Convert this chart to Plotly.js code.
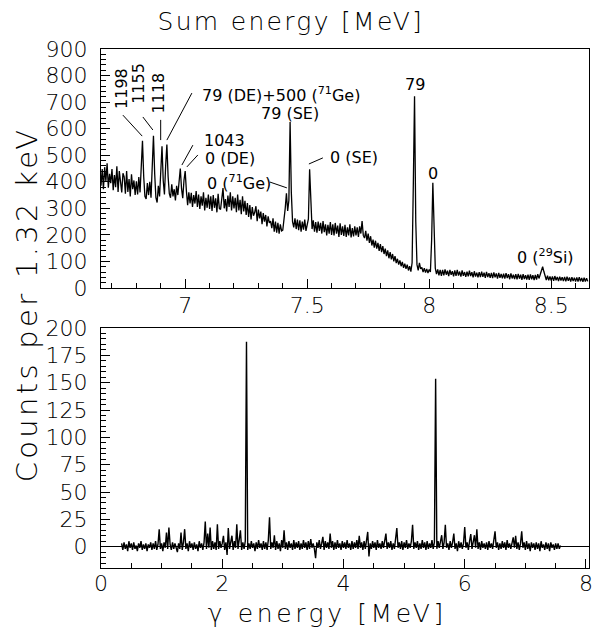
<!DOCTYPE html>
<html><head><meta charset="utf-8">
<script src="https://cdn.plot.ly/plotly-3.0.1.min.js"></script>
<style>html,body{margin:0;padding:0;background:#fff}</style>
</head><body><div id="chart" style="width:594px;height:629px"></div>
<script>
// Top panel: sum-energy spectrum, channels of 5 keV starting at 6.650 MeV
const sumStart = 6.65, sumStep = 0.005;
const sumCounts = [
462,385,448,372,455,402,470,378,430,395,
448,368,425,380,458,362,440,395,360,432,
418,355,440,362,410,345,428,372,405,350,
402,352,418,360,440,554,420,345,335,395,
350,400,340,455,573,430,340,322,385,345,
425,534,405,352,460,540,420,355,340,390,
345,372,330,385,350,400,450,375,338,405,
440,365,312,360,318,358,305,350,318,365,
305,352,298,345,310,360,292,340,302,352,
298,345,290,350,302,338,285,355,300,296,
338,376,300,335,288,348,305,360,292,345,
300,340,285,352,292,332,278,345,288,328,
275,320,268,312,258,305,272,285,308,252,
295,262,288,240,282,250,275,232,270,245,
252,225,262,212,250,208,245,205,240,215,
218,250,300,357,290,330,625,360,250,228,
262,222,258,218,255,212,250,220,258,215,
245,260,447,285,222,255,212,248,208,250,
215,245,205,252,210,240,198,238,205,248,
200,240,198,245,205,235,192,244,200,232,
196,238,192,228,198,240,190,226,194,232,
198,228,192,232,205,252,198,188,215,178,
205,170,195,160,182,152,178,148,170,140,
165,135,158,128,148,120,142,112,135,108,
128,100,120,94,110,88,104,82,98,76,
92,72,88,66,82,62,95,390,722,250,
88,66,95,72,78,60,75,58,72,56,
70,60,180,396,170,75,52,70,48,68,
46,68,48,70,50,65,45,68,50,63,
44,66,46,68,47,62,43,66,46,60,
42,62,44,65,45,60,40,63,43,58,
40,60,41,62,42,58,38,61,41,56,
38,57,37,59,40,55,35,57,38,53,
36,54,35,56,37,52,33,55,36,50,
34,52,33,53,35,50,31,52,34,48,
32,50,31,51,33,48,30,49,32,52,
36,50,58,80,62,42,30,46,29,44,
28,44,27,45,29,42,26,43,28,41,
26,42,25,43,27,40,24,41,26,39,
24,40,24,41,25,38,23,39,24,37,
25
];
// Bottom panel: gamma-energy spectrum, 20 keV steps starting at 0.34 MeV
const gammaStart = 0.34, gammaStep = 0.02;
const gammaCounts = [
3,-3,4,-2,2,-4,5,-1,3,-3,4,-2,1,-4,3,-1,5,-3,2,-2,
3,-4,2,-1,4,-3,3,-2,5,-3,2,16,-2,3,-4,4,-1,13,-2,17.5,
2,-3,4,-2,3,-1,-5,3,-2,13,-3,4,16,-2,3,-4,5,-1,3,-3,
4,-2,2,-4,5,-1,3,-3,4,23,-2,12,-1,17.5,-3,5,-2,4,-3,20.5,
-2,5,-1,3,10,-3,4,-7.5,17,-2,4,10,-3,5,-1,20.5,-2,6,15,-3,
4,-2,5,187.5,-3,3,-2,5,-1,3,-4,4,-2,6,-1,3,-3,5,-2,4,
-3,6,27,-2,4,-1,10.5,-3,5,-2,3,-4,6,-1,15,-2,4,-3,5,-1,
3,-3,6,-2,4,-1,5,-3,3,-2,6,-1,4,-3,5,-2,7,-1,3,-2,
-10.5,4,-1,6,-2,3,9,-3,5,-1,4,-2,12,-1,5,-3,4,-2,6,-1,
3,-3,5,-1,4,-2,6,-1,3,-3,5,-2,4,-1,6,-2,10,-1,4,-3,
5,-2,4,13.5,-9,3,-2,5,-1,4,-3,6,-1,3,-2,5,-1,7,12,-2,
4,-1,5,-3,3,-2,6,17,-1,4,-2,5,-3,4,-1,6,-2,3,-1,5,
20,-2,4,-1,5,-3,3,-2,6,-1,4,-3,5,-2,3,-1,6,-2,4,153.5,
-2,5,-1,7,10.5,-2,4,20,-1,3,-3,5,-1,4,12,-2,3,-4,5,-1,
4,-2,3,18,-1,4,-3,5,11.5,-2,6,10.5,-1,16,-2,4,-3,5,-1,3,
-2,4,-3,5,-1,3,-2,6,14,-1,4,-3,3,-2,5,-1,4,-3,6,-1,
3,-2,5,8.5,-1,10,-2,4,-3,3,14,-1,4,-3,5,-2,3,-4,4,-1,
3,-3,4,-2,3,-4,5,-1,2,-3,4,-2,3,-4,4,-1,2,-3,3,-2,
3,-2,1
];
const sumTicks = [7, 7.5, 8, 8.5];
const sumTickText = ['7', '7.5', '8', '8.5'];
const sumYTicks = [0,100,200,300,400,500,600,700,800,900];
const gammaTicks = [0, 2, 4, 6, 8];
const gammaYTicks = [0,25,50,75,100,125,150,175,200];

const FAM = 'DejaVu Sans';
const tf = {family: FAM, size: 22, color: '#000', weight: 200};
const af = {family: FAM, size: 16, color: '#000', weight: 400};

const base = {showline:true, linecolor:'#000', linewidth:1, mirror:true, showgrid:false,
  ticks:'inside', tickcolor:'#000', tickwidth:1, tickfont: tf};

const traces = [
  {type:'scatter', mode:'lines', x0:sumStart, dx:sumStep, y:sumCounts, xaxis:'x', yaxis:'y',
   line:{color:'#000', width:1.3}, hoverinfo:'skip'},
  {type:'scatter', mode:'lines', x0:gammaStart, dx:gammaStep, y:gammaCounts, xaxis:'x2', yaxis:'y2',
   line:{color:'#000', width:1.4}, hoverinfo:'skip'}
];

function lab(text, x, y, opt) {
  return Object.assign({text, x, y, xref:'x', yref:'y', showarrow:false, font: af,
    xanchor:'center', yanchor:'middle'}, opt || {});
}
function seg(x0, y0, x1, y1) {
  return {type:'line', xref:'x', yref:'y', x0, y0, x1, y1, line:{color:'#000', width:1}};
}

const layout = {
  width: 594, height: 629,
  margin: {l:101, r:5, t:49, b:61},
  showlegend: false,
  paper_bgcolor:'#fff', plot_bgcolor:'#fff',
  font: tf,
  title: {text:'Sum energy [MeV]', font:{family:FAM, size:25, color:'#000', weight:200},
    x:0.389, xref:'paper', xanchor:'center', y:1-21/629, yref:'container', yanchor:'middle'},
  xaxis: Object.assign({}, base, {domain:[0,1], anchor:'y', range:[6.655, 8.655],
    tickmode:'array', tickvals:sumTicks, ticktext:sumTickText, ticklen:9, zeroline:false,
    ticklabelstandoff:-2,
    minor:{tickmode:'linear', tick0:0, dtick:0.1, ticks:'inside', ticklen:5, tickcolor:'#000', showgrid:false}}),
  yaxis: Object.assign({}, base, {domain:[0.5395, 1], anchor:'x', range:[0, 900],
    tickmode:'array', tickvals:sumYTicks, ticklen:9, zeroline:false, ticklabelstandoff:8,
    minor:{tickmode:'linear', tick0:0, dtick:20, ticks:'inside', ticklen:5, tickcolor:'#000', showgrid:false}}),
  xaxis2: Object.assign({}, base, {domain:[0,1], anchor:'y2', range:[0, 8.05],
    tickmode:'array', tickvals:gammaTicks, ticklen:9, zeroline:false, ticklabelstandoff:-4,
    minor:{tickmode:'linear', tick0:0, dtick:0.5, ticks:'inside', ticklen:5, tickcolor:'#000', showgrid:false}}),
  yaxis2: Object.assign({}, base, {domain:[0, 0.4624], anchor:'x2', range:[-19.5, 200],
    tickmode:'array', tickvals:gammaYTicks, ticklen:9, ticklabelstandoff:8,
    zeroline:true, zerolinecolor:'#000', zerolinewidth:1,
    minor:{tickmode:'linear', tick0:0, dtick:5, ticks:'inside', ticklen:5, tickcolor:'#000', showgrid:false}}),
  annotations: [
    lab('1198', 6.7365, 753, {textangle:-90}),
    lab('1155', 6.8102, 772, {textangle:-90}),
    lab('1118', 6.8902, 734, {textangle:-90}),
    lab('79 (DE)+500 (<sup>71</sup>Ge)', 7.0602, 728, {xanchor:'left'}),
    lab('79 (SE)', 7.4291, 659),
    lab('1043', 7.0684, 554, {xanchor:'left'}),
    lab('0 (DE)', 7.0725, 486, {xanchor:'left'}),
    lab('0 (<sup>71</sup>Ge)', 7.0807, 397, {xanchor:'left'}),
    lab('0 (SE)', 7.5844, 493, {xanchor:'left'}),
    lab('79', 7.9414, 765),
    lab('0', 8.0172, 433),
    lab('0 (<sup>29</sup>Si)', 8.3512, 120, {xanchor:'left'}),
    {text:'γ energy [MeV]', xref:'paper', yref:'paper', x:0.465, y:-0.0886, showarrow:false,
      xanchor:'center', yanchor:'middle', font:{family:FAM, size:25, color:'#000', weight:200}},
    {text:'Counts per 1.32 keV', xref:'paper', yref:'paper', x:-0.1516, y:0.507, showarrow:false,
      textangle:-90, xanchor:'center', yanchor:'middle', font:{family:FAM, size:29, color:'#000', weight:200}}
  ],
  shapes: [
    seg(6.7447, 651, 6.8238, 572),
    seg(6.8266, 644, 6.8676, 595),
    seg(6.8996, 633, 6.8996, 557),
    seg(7.0275, 734, 6.9250, 557),
    seg(7.0316, 538, 6.9865, 463),
    seg(7.0520, 501, 7.0070, 456),
    seg(7.3471, 399, 7.4168, 377),
    seg(7.5643, 490, 7.5070, 467)
  ]
};

const spacing = {'Sum energy [MeV]': '2.3px', 'γ energy [MeV]': '3.6px', 'Counts per 1.32 keV': '3.3px'};
Plotly.newPlot('chart', traces, layout, {displayModeBar:false, staticPlot:true}).then(function () {
  document.querySelectorAll('#chart text').forEach(function (t) {
    const s = spacing[t.textContent];
    if (s) t.style.letterSpacing = s;
  });
});
</script></body></html>
